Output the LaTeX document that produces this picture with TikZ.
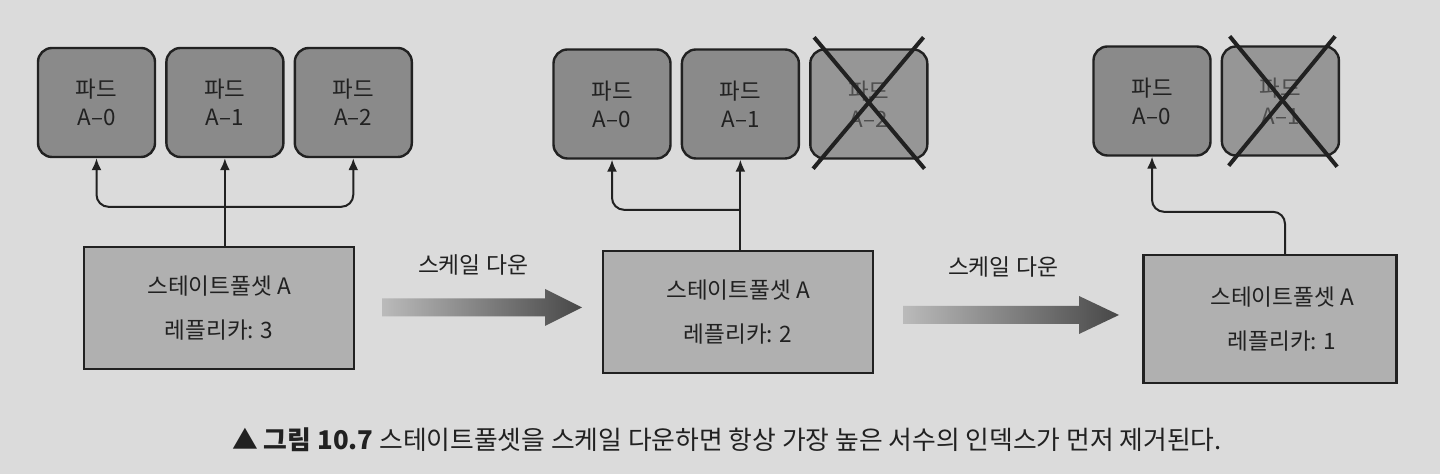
\documentclass[tikz,border=0pt]{standalone}
\usepackage{fontspec}
\setmainfont{Noto Sans CJK KR}
\usepackage{tikz}
\usetikzlibrary{shapes, arrows, arrows.meta, positioning}
\definecolor{paper}{gray}{0.86}
\definecolor{podgray}{gray}{0.54}
\definecolor{setgray}{gray}{0.69}
\definecolor{ink}{gray}{0.13}
\tikzstyle{pod} = [rectangle, rounded corners=7pt, draw=ink, line width=1.2pt, fill=podgray, text=ink, minimum width=58.5pt, minimum height=54.5pt, align=center, font=\fontsize{11.2}{14}\selectfont]
\tikzstyle{gonepod} = [pod, fill=podgray!85!paper, text=ink!80]
\tikzstyle{sset} = [rectangle, draw=ink, line width=1.2pt, fill=setgray, text=ink, minimum width=135pt, minimum height=61pt, align=center, font=\fontsize{11.3}{22}\selectfont]
\tikzstyle{line} = [draw=ink, line width=1pt, rounded corners=6pt, -{Latex[length=6pt,width=5pt]}]
\tikzstyle{cross} = [draw=ink, line width=2pt]
\tikzstyle{scalearrow} = [left color=paper!85!black, right color=black!72]

\begin{document}
\begin{tikzpicture}[x=0.5pt, y=-0.5pt, text=ink, font=\fontsize{11.4}{14}\selectfont]
    \fill[paper] (0,0) rectangle (1440,474);
    \useasboundingbox (0,0) rectangle (1440,474);

    % replicas: 3
    \node[pod] (pa0) at (96.5,102.5) {파드\\A–0};
    \node[pod, right=4.5pt of pa0] (pa1) {파드\\A–1};
    \node[pod, right=4.5pt of pa1] (pa2) {파드\\A–2};
    \node[sset] (sa) at (219,308) {스테이트풀셋 A\\레플리카: 3};

    % replicas: 2
    \node[pod] (pb0) at (612,104) {파드\\A–0};
    \node[pod, right=4.5pt of pb0] (pb1) {파드\\A–1};
    \node[gonepod, right=4.5pt of pb1] (pb2) {파드\\A–2};
    \node[sset] (sb) at (738,312) {스테이트풀셋 A\\레플리카: 2};

    % replicas: 1
    \node[pod] (pc0) at (1152,101) {파드\\A–0};
    \node[gonepod, right=4.5pt of pc0] (pc1) {파드\\A–1};
    \node[sset, minimum width=126.5pt, minimum height=64pt] (sc) at (1270,319) {\hspace*{12pt}스테이트풀셋 A\\\hspace*{12pt}레플리카: 1};

    \path (sa.north) ++(0,-39) coordinate (ja);
    \path (sb.north) ++(0,-40) coordinate (jb);
    \path (sc.north) ++(15,-42) coordinate (jc);

    \path[line] (pa1.south |- sa.north) -- (pa1.south);
    \path[line] (pa1.south |- ja) -| (pa0.south);
    \path[line] (pa1.south |- ja) -| (pa2.south);
    \path[line] (pb1.south |- sb.north) -- (pb1.south);
    \path[line] (pb1.south |- jb) -| (pb0.south);
    \path[line] (jc |- sc.north) -- (jc) -| (pc0.south);

    % removed pods
    \draw[cross] ([shift={(4,9)}]pb2.south west) -- ([shift={(-5,-11)}]pb2.north east);
    \draw[cross] ([shift={(5,-11)}]pb2.north west) -- ([shift={(-4,9)}]pb2.south east);
    \draw[cross] ([shift={(8,9)}]pc1.south west) -- ([shift={(-5,-9)}]pc1.north east);
    \draw[cross] ([shift={(9,-9)}]pc1.north west) -- ([shift={(-3,10)}]pc1.south east);

    % scale down
    \shade[scalearrow] (382,298.5) -- (545,298.5) -- (545,289) -- (582,307.5) -- (545,326) -- (545,316.5) -- (382,316.5) -- cycle;
    \shade[scalearrow] (903,306) -- (1079,306) -- (1079,296) -- (1119,315) -- (1079,334) -- (1079,324) -- (903,324) -- cycle;
    \node (lbla) at (473,265) {스케일 다운};
    \node (lblb) at (1003,267) {스케일 다운};

    \node[font=\fontsize{12.9}{16}\selectfont] (cap) at (727,440) {\textbf{▲ 그림 10.7} 스테이트풀셋을 스케일 다운하면 항상 가장 높은 서수의 인덱스가 먼저 제거된다.};
\end{tikzpicture}
\end{document}
